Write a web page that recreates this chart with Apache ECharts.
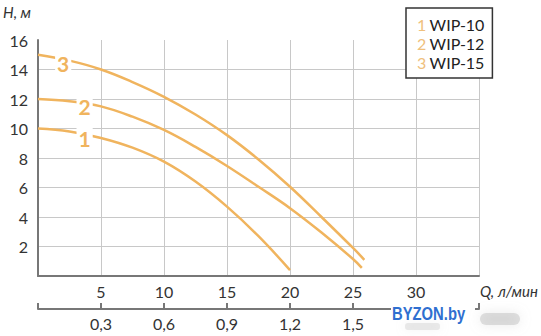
<!DOCTYPE html>
<html><head><meta charset="utf-8">
<script src="https://cdn.jsdelivr.net/npm/echarts@6/dist/echarts.min.js"></script>
<style>html,body{margin:0;padding:0;background:#fff}#c{width:541px;height:336px}</style>
</head><body><div id="c"></div>
<script>
// Data (Q in l/min, H in m)
const names = ['WIP-10', 'WIP-12', 'WIP-15'];
const q1 = [0, 2.5, 5, 7.5, 10, 12.5, 15, 17.5, 20];
const h1 = [10, 9.8, 9.36, 8.7, 7.75, 6.4, 4.7, 2.7, 0.4];
const q2 = [0, 2.5, 5, 7.5, 10, 12.5, 15, 17.5, 20, 22.5, 25, 25.7];
const h2 = [12, 11.85, 11.5, 10.8, 9.9, 8.75, 7.46, 6.05, 4.6, 2.95, 1.15, 0.55];
const q3 = [0, 2.5, 5, 7.5, 10, 12.5, 15, 17.5, 20, 22.5, 25, 25.9];
const h3 = [15, 14.6, 14.0, 13.15, 12.15, 10.95, 9.55, 7.9, 6.05, 4.0, 1.9, 1.1];
const yTicks = [2, 4, 6, 8, 10, 12, 14, 16];
const xTicks = [5, 10, 15, 20, 25, 30];
const m3hTicks = [0.3, 0.6, 0.9, 1.2, 1.5];
// curve-number labels: [Q, H]
const tag1 = [3.7, 9.6], tag2 = [3.7, 11.75], tag3 = [2.0, 14.7];

const orange = '#f0b45e';
const font = 'Lato';
const zip = (a, b) => a.map((v, i) => [v, b[i]]);

function mk(name, data, tag, num) {
  return {
    name, type: 'line', data, smooth: 0.4, symbol: 'none',
    lineStyle: { color: orange, width: 2.5 }, itemStyle: { color: orange },
    markPoint: {
      symbol: 'rect', symbolSize: 0,
      data: [{ coord: tag }],
      label: {
        show: true, formatter: num, color: orange, fontSize: 21, fontWeight: 'bold',
        fontFamily: font, backgroundColor: '#fff', padding: [0, 2], offset: [0, 4]
      }
    }
  };
}

const chart = echarts.init(document.getElementById('c'), null, { renderer: 'svg' });
chart.setOption({
  animation: false,
  grid: { left: 38, right: 62, top: 40, bottom: 60 },
  legend: {
    data: names, orient: 'vertical', left: 406, top: 8,
    backgroundColor: '#fff', borderColor: '#333', borderWidth: 1.5, borderRadius: 0,
    padding: [8, 8, 8, 5], itemGap: 3, itemWidth: 0, itemHeight: 0,
    selectedMode: false,
    formatter: n => '{n|' + (names.indexOf(n) + 1) + '} {t|' + n + '}',
    textStyle: {
      rich: {
        n: { color: '#efc07c', fontSize: 16, fontFamily: font },
        t: { color: '#222', fontSize: 16, fontFamily: font }
      }
    }
  },
  xAxis: [{
    type: 'value', min: 0, max: 35, interval: 5,
    axisLine: { show: true, lineStyle: { color: '#777', width: 2 } },
    axisTick: { show: false },
    axisLabel: { formatter: v => xTicks.includes(v) ? String(v) : '', fontSize: 16, color: '#333', fontFamily: font, margin: 7 },
    splitLine: { show: true, lineStyle: { color: '#c8c8c8', width: 1 } }
  }, {
    type: 'value', min: 0, max: 2.1, interval: 0.3, position: 'bottom', offset: 33,
    axisLine: { show: true, onZero: false, lineStyle: { color: '#777', width: 2 } },
    axisTick: { show: true, inside: true, length: 6, lineStyle: { color: '#777', width: 2 } },
    axisLabel: {
      formatter: v => m3hTicks.some(t => Math.abs(t - v) < 1e-6) ? v.toFixed(1).replace('.', ',') : '',
      fontSize: 16, color: '#333', fontFamily: font, margin: 6
    },
    splitLine: { show: false }
  }],
  yAxis: {
    type: 'value', min: 0, max: 16, interval: 2,
    axisLine: { show: true, lineStyle: { color: '#777', width: 2 } },
    axisTick: { show: false },
    axisLabel: { formatter: v => yTicks.includes(v) ? String(v) : '', fontSize: 16, color: '#333', fontFamily: font, margin: 10 },
    splitLine: { show: true, showMaxLine: false, lineStyle: { color: '#c8c8c8', width: 1 } }
  },
  series: [
    mk(names[0], zip(q1, h1), tag1, '1'),
    mk(names[1], zip(q2, h2), tag2, '2'),
    mk(names[2], zip(q3, h3), tag3, '3')
  ],
  graphic: [
    { type: 'text', left: 3, top: 4, style: { text: 'H, м', fontSize: 15, fontStyle: 'italic', fill: '#333', fontFamily: font } },
    { type: 'text', left: 480, top: 283, style: { text: 'Q, л/мин', fontSize: 15, fontStyle: 'italic', fill: '#333', fontFamily: font } },
    { type: 'rect', z: 100, shape: { x: 391, y: 303, width: 84, height: 22 }, style: { fill: '#fff' } },
    { type: 'rect', z: 100, shape: { x: 480, y: 313, width: 40, height: 12, r: 6 }, style: { fill: 'rgba(170,170,170,0.35)', shadowBlur: 12, shadowColor: 'rgba(170,170,170,0.7)' } },
    { type: 'rect', z: 100, shape: { x: 405, y: 323, width: 35, height: 7, r: 3 }, style: { fill: 'rgba(190,190,190,0.3)', shadowBlur: 10, shadowColor: 'rgba(190,190,190,0.6)' } },
    { type: 'text', z: 101, x: 392, y: 304, scaleX: 0.78, style: { text: 'BYZON.by', fontSize: 19, fontWeight: 'bold', fill: '#2f6fd0', fontFamily: 'Liberation Sans' } }
  ]
});
</script></body></html>
